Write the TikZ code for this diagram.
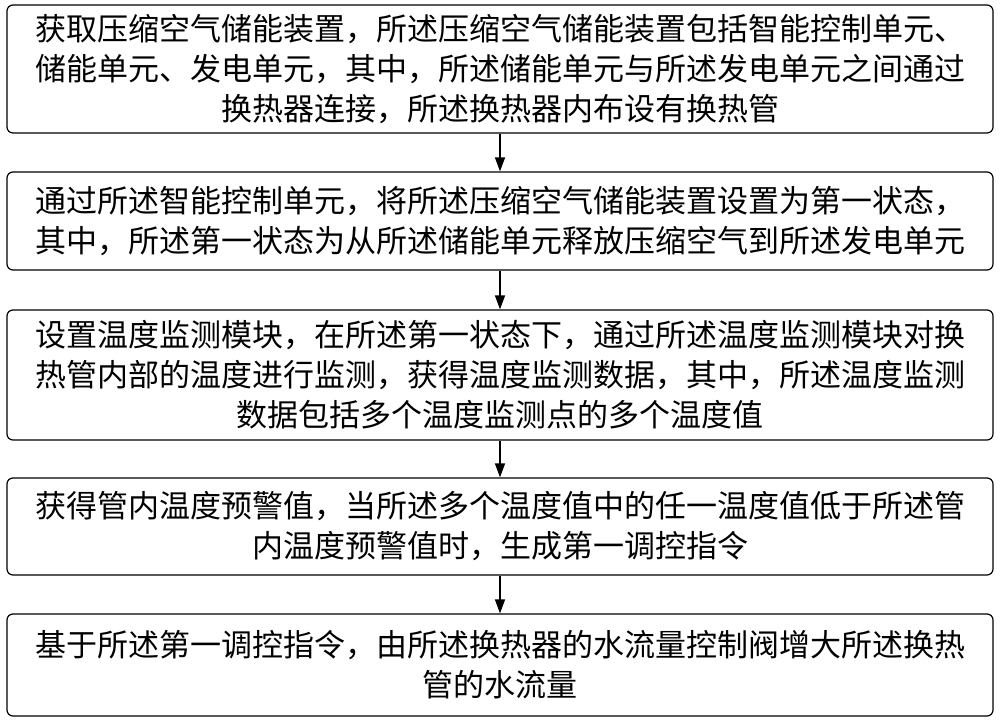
\documentclass[tikz,border=0pt]{standalone}
\usepackage{fontspec}
\setmainfont{Noto Sans CJK SC}
\usetikzlibrary{arrows.meta}
\begin{document}
\begin{tikzpicture}[x=1pt,y=1pt,
  stepbox/.style={draw=black,line width=1.2pt,rounded corners=6pt,minimum width=986pt,align=center,inner sep=0pt,font=\fontsize{31}{40}\selectfont},
  arr/.style={-{Triangle[length=14pt,width=10pt]},line width=1.4pt}]
\useasboundingbox (0,0) rectangle (1000,722);
\node[stepbox,minimum height=128pt] (b1) at (500,653) {获取压缩空气储能装置，所述压缩空气储能装置包括智能控制单元、\\储能单元、发电单元，其中，所述储能单元与所述发电单元之间通过\\换热器连接，所述换热器内布设有换热管};
\node[stepbox,minimum height=98pt] (b2) at (500,501) {通过所述智能控制单元，将所述压缩空气储能装置设置为第一状态，\\其中，所述第一状态为从所述储能单元释放压缩空气到所述发电单元};
\node[stepbox,minimum height=130pt] (b3) at (500,347) {设置温度监测模块，在所述第一状态下，通过所述温度监测模块对换\\热管内部的温度进行监测，获得温度监测数据，其中，所述温度监测\\数据包括多个温度监测点的多个温度值};
\node[stepbox,minimum height=97pt] (b4) at (500,195.5) {获得管内温度预警值，当所述多个温度值中的任一温度值低于所述管\\内温度预警值时，生成第一调控指令};
\node[stepbox,minimum height=102pt] (b5) at (500,57) {基于所述第一调控指令，由所述换热器的水流量控制阀增大所述换热\\管的水流量};
\draw[arr] (b1) -- (b2);
\draw[arr] (b2) -- (b3);
\draw[arr] (b3) -- (b4);
\draw[arr] (b4) -- (b5);
\end{tikzpicture}
\end{document}
